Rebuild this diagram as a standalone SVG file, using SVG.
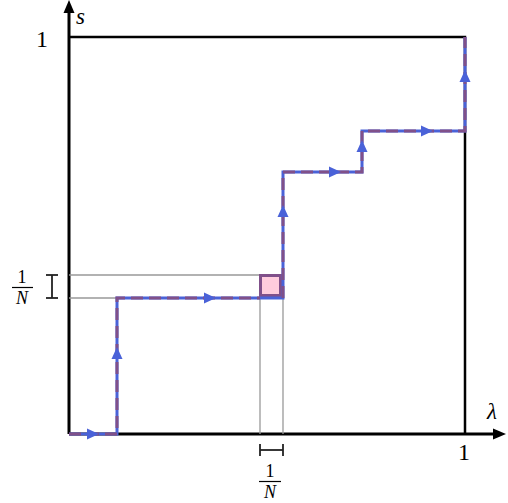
<svg xmlns="http://www.w3.org/2000/svg" width="508" height="503" viewBox="0 0 508 503">
<style>
.ax{stroke:#000;stroke-width:3;fill:none}
.box{stroke:#000;stroke-width:2.5;fill:none}
.grid{stroke:#999;stroke-width:1.3;fill:none}
.pb{stroke:#4a62d8;stroke-width:3;fill:none}
.pd{stroke:#80508a;stroke-width:3;fill:none;stroke-dasharray:12 6}
.ah{fill:#4a62d8}
.t{font-family:"Liberation Serif","DejaVu Serif",serif;fill:#000}
.it{font-style:italic}
.bar{stroke:#222;stroke-width:1.8;fill:none}
</style>
<g id="axes">
<line class="ax" x1="69" y1="434" x2="69" y2="12"/>
<polygon points="69,0 63.5,13 74.5,13" fill="#000"/>
<line class="ax" x1="69" y1="434" x2="494" y2="434"/>
<polygon points="506,434 493,428.5 493,439.5" fill="#000"/>
<text class="t it" x="76" y="24" font-size="23">s</text>
<text class="t" x="36" y="47" font-size="24">1</text>
<text class="t it" x="487" y="419" font-size="23">λ</text>
<text class="t" x="458" y="460" font-size="24">1</text>
</g>
<g id="box">
<polyline class="box" points="69,37 465,37 465,434"/>
</g>
<g id="grid">
<line class="grid" x1="69" y1="275" x2="283" y2="275"/>
<line class="grid" x1="69" y1="298" x2="260" y2="298"/>
<line class="grid" x1="260" y1="298" x2="260" y2="434"/>
<line class="grid" x1="283" y1="298" x2="283" y2="434"/>
</g>
<g id="cell">
<rect x="260.5" y="275.5" width="20" height="20" fill="#ffccdd" stroke="#80508a" stroke-width="3"/>
</g>
<g id="connectors">
<polyline class="pb" points="69,434 117,434 117,298 283,298 283,172 362,172 362,131 465,131 465,37"/>
<polyline class="pd" points="69,434 117,434 117,298 260,298"/>
<polyline class="pd" points="283,298 283,172 362,172 362,131 465,131 465,37"/>
<polygon class="ah" points="99,434 87,428.5 87,439.5"/>
<polygon class="ah" points="117,347 111.5,359 122.5,359"/>
<polygon class="ah" points="216,298 204,292.5 204,303.5"/>
<polygon class="ah" points="283,205 277.5,217 288.5,217"/>
<polygon class="ah" points="341,172 329,166.5 329,177.5"/>
<polygon class="ah" points="362,140 356.5,152 367.5,152"/>
<polygon class="ah" points="433,131 421,125.5 421,136.5"/>
<polygon class="ah" points="465,70 459.5,82 470.5,82"/>
</g>
<g id="label-left">
<line class="bar" x1="52" y1="275" x2="52" y2="298"/>
<line class="bar" x1="46" y1="275" x2="58" y2="275"/>
<line class="bar" x1="46" y1="298" x2="58" y2="298"/>
<text class="t" x="22" y="283" font-size="18" text-anchor="middle">1</text>
<line x1="12" y1="287.5" x2="33" y2="287.5" stroke="#000" stroke-width="1.2"/>
<text class="t it" x="22" y="304" font-size="18" text-anchor="middle">N</text>
</g>
<g id="label-bottom">
<line class="bar" x1="260" y1="450" x2="283" y2="450"/>
<line class="bar" x1="260" y1="444" x2="260" y2="456"/>
<line class="bar" x1="283" y1="444" x2="283" y2="456"/>
<text class="t" x="270" y="477" font-size="18" text-anchor="middle">1</text>
<line x1="259" y1="481.5" x2="281" y2="481.5" stroke="#000" stroke-width="1.2"/>
<text class="t it" x="270" y="498" font-size="18" text-anchor="middle">N</text>
</g>
</svg>
